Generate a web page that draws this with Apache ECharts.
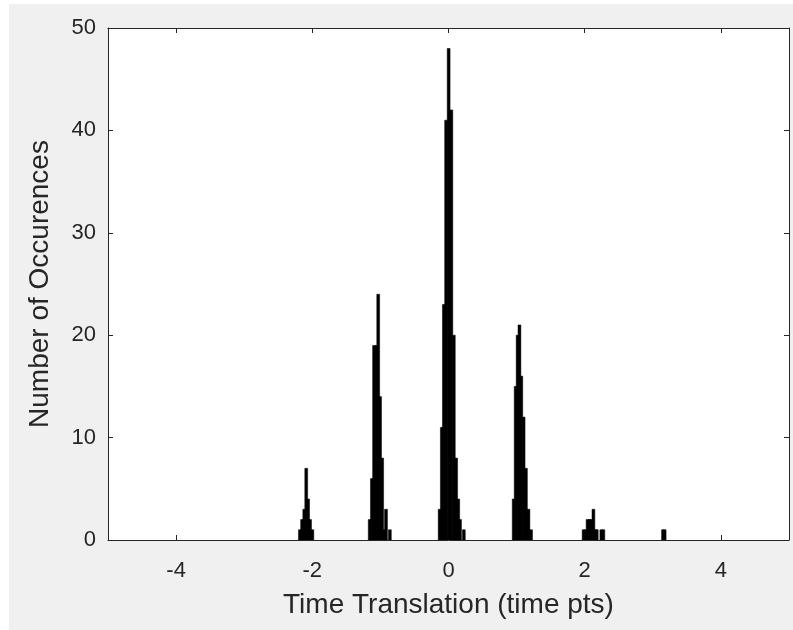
<!DOCTYPE html>
<html>
<head>
<meta charset="utf-8">
<script src="https://cdn.jsdelivr.net/npm/echarts@6/dist/echarts.min.js"></script>
<style>
  html, body { margin: 0; padding: 0; background: #fff; }
  #hist { position: absolute; left: 9px; top: 4px; width: 784px; height: 626px; }
</style>
</head>
<body>
<div id="hist"></div>
<script>
// histogram bins (center, count)
var binCenters = [
  -2.182, -2.150, -2.118, -2.089, -2.062, -2.033, -1.999,
  -1.157, -1.125, -1.093, -1.060, -1.032, -1.005, -0.974, -0.944, -0.918, -0.861,
  -0.130, -0.098, -0.068, -0.035, 0.002, 0.042, 0.078, 0.112, 0.143, 0.169, 0.225,
  0.957, 0.986, 1.015, 1.042, 1.069, 1.103, 1.137, 1.174, 1.212,
  1.984, 2.012, 2.042, 2.074, 2.094, 2.128, 2.162, 2.177, 2.244, 2.274,
  3.150, 3.174
];
var binCounts = [
  1, 2, 3, 7, 4, 2, 1,
  2, 6, 19, 19, 24, 14, 8, 1, 3, 1,
  3, 11, 23, 41, 48, 42, 20, 8, 4, 2, 1,
  4, 15, 20, 21, 16, 12, 7, 3, 1,
  1, 1, 2, 2, 2, 3, 1, 1, 1, 1,
  1, 1
];
var binWidth = 0.042;
var xTicks = [-4, -2, 0, 2, 4];
var yTicks = [0, 10, 20, 30, 40, 50];

var axisColor = "#262626";
var fontFamily = "Liberation Sans, Arial, sans-serif";

var data = [];
for (var i = 0; i < binCenters.length; i++) {
  data.push([binCenters[i], binCounts[i]]);
}

var myChart = echarts.init(document.getElementById("hist"));
var option = {
  backgroundColor: "#f0f0f0",
  animation: false,
  grid: {
    left: 99, top: 24, width: 681, height: 512,
    show: true, backgroundColor: "#fff", borderWidth: 0
  },
  xAxis: [
    {
      type: "value", min: -5, max: 5, position: "bottom",
      name: "Time Translation (time pts)",
      nameLocation: "middle", nameGap: 51,
      nameTextStyle: { color: axisColor, fontSize: 28, fontFamily: fontFamily },
      axisLine: { onZero: false, lineStyle: { color: axisColor, width: 1 } },
      axisTick: { inside: true, length: 5, customValues: xTicks, lineStyle: { color: axisColor } },
      axisLabel: { customValues: xTicks, margin: 20, color: axisColor, fontSize: 22, fontFamily: fontFamily },
      splitLine: { show: false }
    },
    {
      type: "value", min: -5, max: 5, position: "top",
      axisLine: { onZero: false, lineStyle: { color: axisColor, width: 1 } },
      axisTick: { inside: true, length: 5, customValues: xTicks, lineStyle: { color: axisColor } },
      axisLabel: { show: false },
      splitLine: { show: false }
    }
  ],
  yAxis: [
    {
      type: "value", min: 0, max: 50, interval: 10, position: "left",
      name: "Number of Occurences",
      nameLocation: "middle", nameGap: 54,
      nameTextStyle: { color: axisColor, fontSize: 28, fontFamily: fontFamily },
      axisLine: { show: true, onZero: false, lineStyle: { color: axisColor, width: 1 } },
      axisTick: { show: true, inside: true, length: 5, lineStyle: { color: axisColor } },
      axisLabel: { margin: 12, color: axisColor, fontSize: 22, fontFamily: fontFamily },
      splitLine: { show: false }
    },
    {
      type: "value", min: 0, max: 50, interval: 10, position: "right",
      axisLine: { show: true, onZero: false, lineStyle: { color: axisColor, width: 1 } },
      axisTick: { show: true, inside: true, length: 5, lineStyle: { color: axisColor } },
      axisLabel: { show: false },
      splitLine: { show: false }
    }
  ],
  series: [
    {
      type: "custom",
      xAxisIndex: 0,
      yAxisIndex: 0,
      clip: true,
      data: data,
      renderItem: function (params, api) {
        var x = api.value(0);
        var n = api.value(1);
        var p0 = api.coord([x - binWidth / 2, n]);
        var p1 = api.coord([x + binWidth / 2, 0]);
        return {
          type: "rect",
          shape: { x: p0[0], y: p0[1], width: p1[0] - p0[0], height: p1[1] - p0[1] },
          style: { fill: "#000", stroke: "#000", lineWidth: 0.5 }
        };
      }
    }
  ]
};
myChart.setOption(option);
</script>
</body>
</html>
